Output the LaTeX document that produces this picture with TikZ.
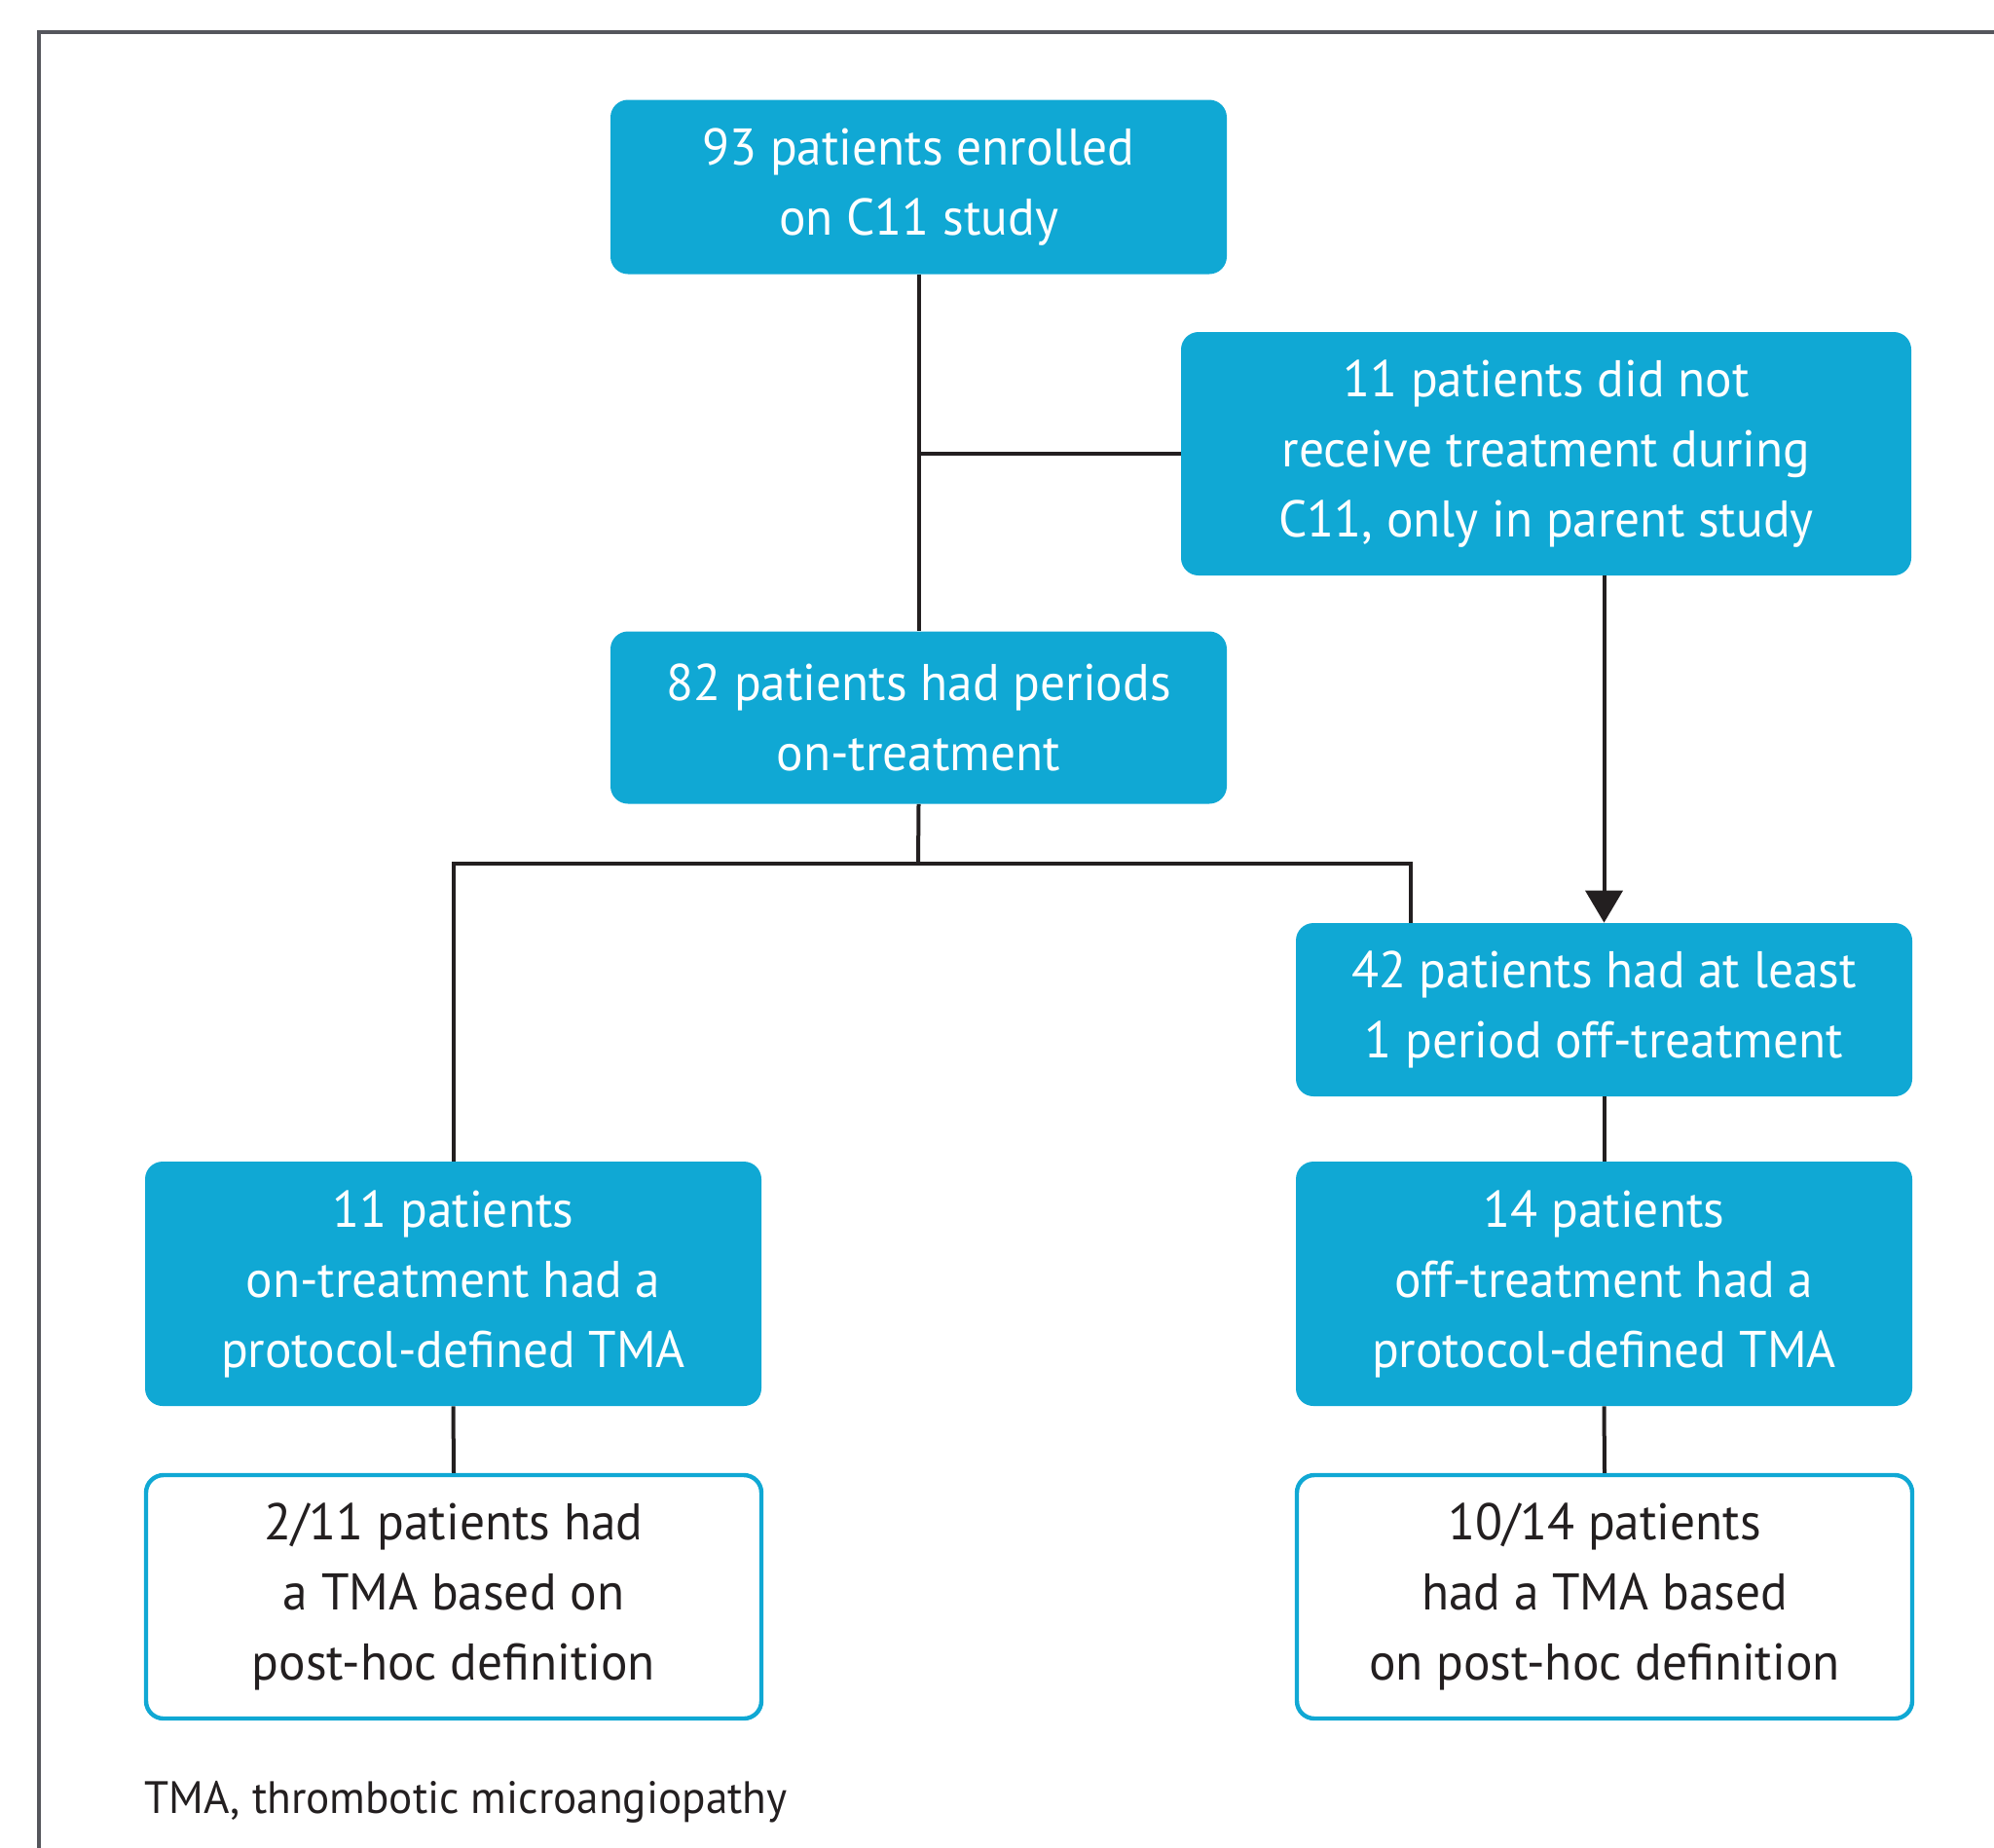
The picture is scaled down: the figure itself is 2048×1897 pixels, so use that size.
\documentclass[tikz,border=0pt]{standalone}
\usepackage{fontspec}
\setmainfont[FakeStretch=0.97]{PT Sans}
\usetikzlibrary{arrows.meta}
\definecolor{boxblue}{RGB}{16,168,212}
\definecolor{framegray}{RGB}{85,86,92}
\definecolor{inkdark}{RGB}{35,31,32}

\begin{document}
\begin{tikzpicture}[x=0.5pt,y=-0.5pt]
                    \tikzset{fillbox/.style={fill=boxblue,text=white,rounded corners=9pt,align=center,inner sep=0pt,minimum width=316.5pt,font=\fontsize{26.5}{36}\selectfont}}
                    \tikzset{linebox/.style={draw=boxblue,line width=2.2pt,text=inkdark,rounded corners=9pt,align=center,inner sep=0pt,minimum width=316pt,minimum height=125pt,font=\fontsize{26.5}{36}\selectfont}}
                    \tikzset{link/.style={draw=inkdark,line width=2pt}}
                    \clip (0,0) rectangle (2048,1897);
                    \useasboundingbox (0,0) rectangle (2048,1897);
                    \draw[framegray,line width=2.3pt] (40,2000) -- (40,33) -- (2100,33);
                    \node[fillbox,minimum height=89.5pt] (enrolled) at (943.5,192) {93 patients enrolled\\on C11 study};
                    \node[fillbox,minimum width=375pt,minimum height=125pt] (notreat) at (1588,466) {11 patients did not\\receive treatment during\\C11, only in parent study};
                    \node[fillbox,minimum height=88.5pt] (ontreat) at (943.5,737) {82 patients had periods\\on-treatment};
                    \node[fillbox,minimum height=89pt] (offtreat) at (1647.5,1037) {42 patients had at least\\1 period off-treatment};
                    \node[fillbox,minimum height=125.5pt] (ontma) at (465.5,1318.5) {11 patients\\on-treatment had a\\protocol-defined TMA};
                    \node[fillbox,minimum height=125.5pt] (offtma) at (1647.5,1318.5) {14 patients\\off-treatment had a\\protocol-defined TMA};
                    \node[linebox] (onpost) at (466,1640) {2/11 patients had\\a TMA based on\\post-hoc definition};
                    \node[linebox] (offpost) at (1648,1640) {10/14 patients\\had a TMA based\\on post-hoc definition};
                    \node[anchor=base west,inner sep=0pt,text=inkdark,font=\fontsize{23.3}{30}\selectfont] (note) at (148,1862) {TMA, thrombotic microangiopathy};
                    \coordinate (fork) at (943,887);
                    \coordinate (forkr) at (1449,887);
                    \draw[link] (enrolled.south) -- (ontreat.north);
                    \draw[link] (notreat.west) -- (notreat.west -| enrolled.south);
                    \draw[link] (ontreat.south) -- (fork);
                    \draw[link] (ontma.north) |- (forkr) -- (forkr |- offtreat.north);
                    \draw[link,-{Triangle[width=19pt,length=16.5pt]}] (offtreat.north |- notreat.south) -- (offtreat.north);
                    \draw[link] (offtreat.south) -- (offtma.north);
                    \draw[link] (ontma.south) -- (onpost.north);
                    \draw[link] (offtma.south) -- (offpost.north);
                \end{tikzpicture}
\end{document}
